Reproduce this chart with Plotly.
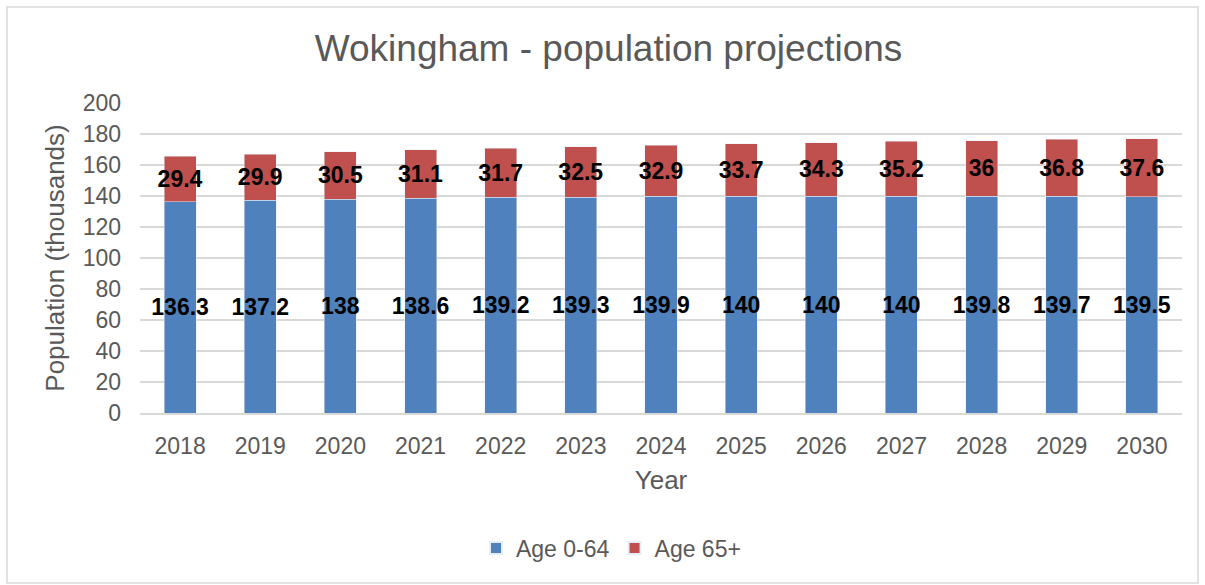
import plotly.graph_objects as go

years = ["2018", "2019", "2020", "2021", "2022", "2023", "2024",
         "2025", "2026", "2027", "2028", "2029", "2030"]
age_0_64 = [136.3, 137.2, 138, 138.6, 139.2, 139.3, 139.9, 140, 140, 140, 139.8, 139.7, 139.5]
age_65_plus = [29.4, 29.9, 30.5, 31.1, 31.7, 32.5, 32.9, 33.7, 34.3, 35.2, 36, 36.8, 37.6]
y_ticks = [0, 20, 40, 60, 80, 100, 120, 140, 160, 180, 200]

FONT = "Liberation Sans, Arial, sans-serif"
GREY = "#595959"
label_font = dict(family=FONT, size=23, color="black", weight="bold")

fig = go.Figure()
fig.add_trace(go.Bar(
    x=years, y=age_0_64, name="Age 0-64", marker_color="#4f81bd",
    text=age_0_64, texttemplate="%{text}", textposition="inside", textangle=0,
    insidetextanchor="middle", textfont=label_font, constraintext="none",
    hoverinfo="skip"))
fig.add_trace(go.Bar(
    x=years, y=age_65_plus, name="Age 65+", marker_color="#c0504d",
    text=age_65_plus, texttemplate="%{text}", textposition="inside", textangle=0,
    insidetextanchor="middle", textfont=label_font, constraintext="none",
    hoverinfo="skip"))

L, R, T, B = 140, 23, 103, 172
W, H = 1205, 585
pw, ph = W - L - R, H - T - B

fig.update_layout(
    width=W, height=H,
    barmode="stack", bargap=0.6,
    margin=dict(l=L, r=R, t=T, b=B),
    paper_bgcolor="white", plot_bgcolor="white",
    font=dict(family=FONT, color=GREY),
    uniformtext=dict(mode="show", minsize=23),
    title=dict(text="Wokingham - population projections", x=0.505, xanchor="center",
               y=1 - 48 / H, yanchor="middle", yref="container",
               font=dict(family=FONT, size=37, color=GREY)),
    legend=dict(orientation="h", x=0.452, xanchor="center",
                y=-(548 - (T + ph)) / ph, yanchor="middle",
                font=dict(family=FONT, size=23, color=GREY),
                itemsizing="constant", traceorder="normal"),
    xaxis=dict(title=dict(text="Year", font=dict(size=26, color=GREY), standoff=12),
               tickfont=dict(size=23, color=GREY), showgrid=False,
               showline=True, linecolor="#d9d9d9", linewidth=1.5,
               ticks="", ticklabelstandoff=12),
    yaxis=dict(title=dict(text="Population (thousands)", font=dict(size=26, color=GREY), standoff=10),
               tickfont=dict(size=23, color=GREY), range=[0, 200],
               tickvals=y_ticks, showgrid=True, gridcolor="#d9d9d9", gridwidth=1.5,
               zeroline=False, showline=False, ticks="", ticklabelstandoff=18),
    shapes=[dict(type="rect", xref="paper", yref="paper",
                 x0=(7 - L) / pw, x1=(1198 - L) / pw,
                 y0=-(583 - (T + ph)) / ph, y1=(T + ph - 7) / ph,
                 line=dict(color="#d9d9d9", width=1.5), layer="below")],
)

fig.write_html("out.html", config={"displayModeBar": False},
               post_script="document.body.style.margin='0';")
